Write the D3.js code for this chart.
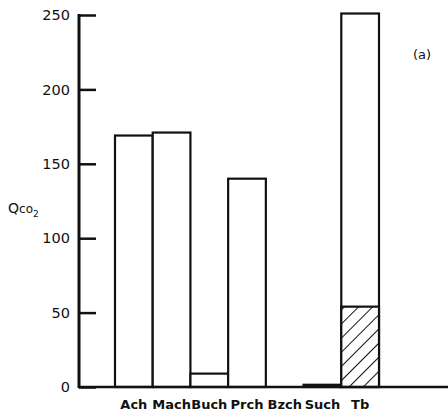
<!DOCTYPE html>
<html>
<head>
<meta charset="utf-8">
<script src="https://cdn.jsdelivr.net/npm/d3@7"></script>
<style>
  html, body { margin: 0; padding: 0; background: #fff; }
  svg { display: block; }
  text { font-family: "DejaVu Sans", sans-serif; fill: #111; }
</style>
</head>
<body>
<svg id="chart" width="448" height="414"></svg>
<script>
const categories = ["Ach", "Mach", "Buch", "Prch", "Bzch", "Such", "Tb"];
const totalValues = [169, 171, 9, 140, 0, 1.5, 251];
const hatchedValues = [0, 0, 0, 0, 0, 0, 54];
const yTicks = [0, 50, 100, 150, 200, 250];

const svg = d3.select("#chart");

const x = d3.scaleBand().domain(categories).range([115, 379]).padding(0);
const y = d3.scaleLinear().domain([0, 250]).range([387, 15]);

const defs = svg.append("defs");
const pat = defs.append("pattern")
  .attr("id", "hatch")
  .attr("patternUnits", "userSpaceOnUse")
  .attr("width", 10).attr("height", 10)
  .attr("patternTransform", "rotate(45)");
pat.append("rect").attr("width", 10).attr("height", 10).attr("fill", "#fff");
pat.append("line")
  .attr("x1", 0).attr("y1", 0).attr("x2", 0).attr("y2", 10)
  .attr("stroke", "#111").attr("stroke-width", 2);

const data = categories.map((c, i) => ({ c, total: totalValues[i], hatched: hatchedValues[i] }));

svg.append("g").selectAll("rect.bar")
  .data(data.filter(d => d.total > 0))
  .join("rect")
  .attr("class", "bar")
  .attr("x", d => x(d.c))
  .attr("y", d => y(d.total))
  .attr("width", x.bandwidth())
  .attr("height", d => y(0) - y(d.total))
  .attr("fill", "#fff")
  .attr("stroke", "#111")
  .attr("stroke-width", 2.2);

svg.append("g").selectAll("rect.hatch")
  .data(data.filter(d => d.hatched > 0))
  .join("rect")
  .attr("class", "hatch")
  .attr("x", d => x(d.c))
  .attr("y", d => y(d.hatched))
  .attr("width", x.bandwidth())
  .attr("height", d => y(0) - y(d.hatched))
  .attr("fill", "url(#hatch)")
  .attr("stroke", "#111")
  .attr("stroke-width", 2.2);

const yAxis = d3.axisRight(y).tickValues(yTicks).tickSize(17).tickFormat("");
const gy = svg.append("g").attr("transform", "translate(79,0)").call(yAxis);
gy.select(".domain").remove();
gy.selectAll(".tick line").attr("stroke", "#111").attr("stroke-width", 2.5);
svg.append("line")
  .attr("x1", 79).attr("x2", 79)
  .attr("y1", y(250) - 1).attr("y2", y(0) + 1)
  .attr("stroke", "#111").attr("stroke-width", 3);

svg.append("g").selectAll("text.ytl")
  .data(yTicks)
  .join("text")
  .attr("class", "ytl")
  .attr("x", 70)
  .attr("y", d => y(d))
  .attr("dy", "0.36em")
  .attr("text-anchor", "end")
  .style("font-size", "14.5px")
  .text(d => d);

svg.append("line")
  .attr("x1", 78).attr("x2", 448)
  .attr("y1", y(0)).attr("y2", y(0))
  .attr("stroke", "#111").attr("stroke-width", 2.5);

svg.append("g").selectAll("text.xl")
  .data(categories)
  .join("text")
  .attr("class", "xl")
  .attr("x", d => x(d) + x.bandwidth() / 2)
  .attr("y", 409)
  .attr("text-anchor", "middle")
  .style("font-size", "13px")
  .style("font-weight", "bold")
  .text(d => d);

const ql = svg.append("text").attr("x", 8).attr("y", 213).style("font-size", "14px");
ql.append("tspan").text("Q");
ql.append("tspan").style("font-size", "12px").text("co");
ql.append("tspan").attr("dy", 4).style("font-size", "9px").text("2");

svg.append("text").attr("x", 413).attr("y", 59).style("font-size", "13px").text("(a)");
</script>
</body>
</html>
